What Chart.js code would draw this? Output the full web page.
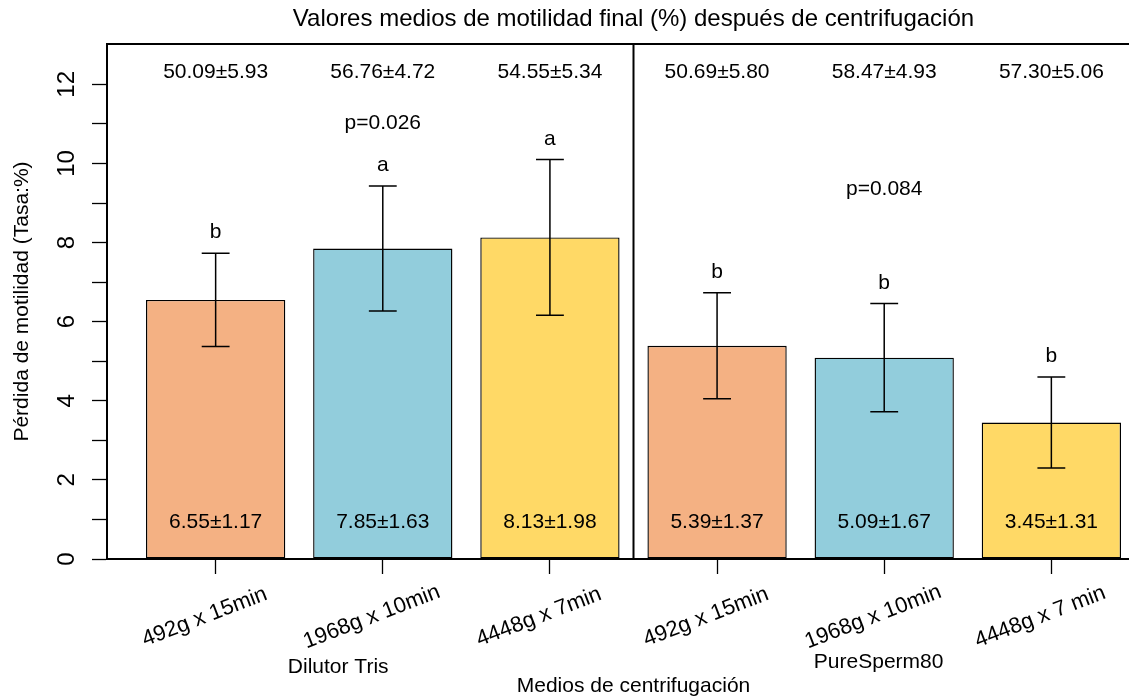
<!DOCTYPE html>
<html>
<head>
<meta charset="utf-8">
<script src="https://cdn.jsdelivr.net/npm/chart.js@4/dist/chart.umd.min.js"></script>
<style>
  html, body { margin: 0; padding: 0; background: #fff; overflow: hidden; }
  #wrap { position: relative; width: 1129px; height: 697px; overflow: hidden; }
</style>
</head>
<body>
<div id="wrap"><canvas id="myChart" width="1180" height="697"></canvas></div>
<script>
const groups = ["Dilutor Tris", "PureSperm80"];
const treatments = ["492g x 15min", "1968g x 10min", "4448g x 7min",
                    "492g x 15min", "1968g x 10min", "4448g x 7 min"];
const lossMean = [6.55, 7.85, 8.13, 5.39, 5.09, 3.45];
// half-length of the drawn error bars
const errDrawn = [1.18, 1.58, 1.97, 1.34, 1.37, 1.15];
const lossLabels = ["6.55±1.17", "7.85±1.63", "8.13±1.98", "5.39±1.37", "5.09±1.67", "3.45±1.31"];
const finalLabels = ["50.09±5.93", "56.76±4.72", "54.55±5.34", "50.69±5.80", "58.47±4.93", "57.30±5.06"];
const letters = ["b", "a", "a", "b", "b", "b"];
const pValues = ["p=0.026", "p=0.084"];
const yTicks = [0, 2, 4, 6, 8, 10, 12];
const barColors = ["#F4B183", "#92CDDC", "#FFD966", "#F4B183", "#92CDDC", "#FFD966"];

const FONT = '"Liberation Sans", Arial, sans-serif';

// barplot geometry like R: width 1, space 0.2
function barX(i) { return 0.7 + 1.2 * i; }

const annotations = {
  id: 'annotations',
  afterDatasetsDraw(chart) {
    const { ctx, chartArea, scales: { x, y } } = chart;
    ctx.save();
    ctx.strokeStyle = '#000';
    ctx.fillStyle = '#000';

    // top of the box and divider between the two media
    ctx.lineWidth = 2;
    ctx.beginPath();
    ctx.moveTo(chartArea.left - 1, chartArea.top);
    ctx.lineTo(chartArea.right, chartArea.top);
    const xd = x.getPixelForValue(3.7);
    ctx.moveTo(xd, chartArea.top);
    ctx.lineTo(xd, chartArea.bottom);
    ctx.stroke();

    // error bars
    ctx.lineWidth = 1.5;
    lossMean.forEach((m, i) => {
      const px = x.getPixelForValue(barX(i));
      const cap = x.getPixelForValue(barX(i) + 0.1) - px;
      const lo = y.getPixelForValue(m - errDrawn[i]);
      const hi = y.getPixelForValue(m + errDrawn[i]);
      ctx.beginPath();
      ctx.moveTo(px, lo); ctx.lineTo(px, hi);
      ctx.moveTo(px - cap, lo); ctx.lineTo(px + cap, lo);
      ctx.moveTo(px - cap, hi); ctx.lineTo(px + cap, hi);
      ctx.stroke();
    });

    ctx.font = '21px ' + FONT;
    ctx.textAlign = 'center';
    ctx.textBaseline = 'middle';

    // letters, values
    lossMean.forEach((m, i) => {
      const px = x.getPixelForValue(barX(i));
      ctx.fillText(letters[i], px, y.getPixelForValue(m + errDrawn[i] + 0.52));
      ctx.fillText(finalLabels[i], px, y.getPixelForValue(12.31));
      ctx.fillText(lossLabels[i], px, y.getPixelForValue(0.92));
    });
    ctx.fillText(pValues[0], x.getPixelForValue(barX(1)), y.getPixelForValue(11.02));
    ctx.fillText(pValues[1], x.getPixelForValue(barX(4)), y.getPixelForValue(9.35));

    // group labels
    ctx.fillText(groups[0], x.getPixelForValue(1.58), chartArea.bottom + 108);
    ctx.fillText(groups[1], x.getPixelForValue(5.46), chartArea.bottom + 103);

    // axis titles
    const cx = (chartArea.left + chartArea.right) / 2;
    ctx.fillText('Medios de centrifugación', cx, chartArea.bottom + 127);
    ctx.save();
    ctx.translate(22, (chartArea.top + chartArea.bottom) / 2);
    ctx.rotate(-Math.PI / 2);
    ctx.fillText('Pérdida de motilidad (Tasa:%)', 0, 0);
    ctx.restore();

    // y tick labels (rotated, like R las=0)
    ctx.font = '24px ' + FONT;
    yTicks.forEach(v => {
      ctx.save();
      ctx.translate(chartArea.left - 40, y.getPixelForValue(v));
      ctx.rotate(-Math.PI / 2);
      ctx.fillText(String(v), 0, 0);
      ctx.restore();
    });

    // x tick labels rotated
    ctx.font = '22px ' + FONT;
    treatments.forEach((t, i) => {
      ctx.save();
      ctx.translate(x.getPixelForValue(barX(i)) - 11, chartArea.bottom + 58);
      ctx.rotate(-21 * Math.PI / 180);
      ctx.fillText(t, 0, 0);
      ctx.restore();
    });

    ctx.font = '24px ' + FONT;
    ctx.fillText('Valores medios de motilidad final (%) después de centrifugación', cx, 19);
    ctx.restore();
  }
};

const ctx = document.getElementById('myChart').getContext('2d');
const chart = new Chart(ctx, {
  type: 'bar',
  data: {
    datasets: [{
      data: lossMean.map((v, i) => ({ x: barX(i), y: v })),
      backgroundColor: barColors,
      borderColor: '#000',
      borderWidth: 1.4,
      borderSkipped: false,
      categoryPercentage: 1,
      barPercentage: 1 / 1.2
    }]
  },
  options: {
    responsive: false,
    animation: false,
    devicePixelRatio: 1,
    layout: { padding: { left: 92, top: 44, right: 20, bottom: 123 } },
    plugins: { legend: { display: false }, tooltip: { enabled: false }, title: { display: false } },
    scales: {
      x: {
        type: 'linear',
        offset: false,
        min: -0.08,
        max: 7.48,
        afterBuildTicks: s => { s.ticks = treatments.map((t, i) => ({ value: barX(i) })); },
        ticks: { display: false },
        grid: { offset: false, drawOnChartArea: false, drawTicks: true, tickLength: 15, color: '#000', tickWidth: 1.3 },
        border: { display: true, color: '#000', width: 2 }
      },
      y: {
        min: 0,
        max: 13.02,
        afterBuildTicks: s => { s.ticks = s.ticks.filter(t => t.value <= 12 && Number.isInteger(t.value)); },
        ticks: { display: false, stepSize: 1 },
        grid: { drawOnChartArea: false, drawTicks: true, tickLength: 15, color: '#000', tickWidth: 1.3 },
        border: { display: true, color: '#000', width: 2 }
      }
    }
  },
  plugins: [annotations]
});
</script>
</body>
</html>
